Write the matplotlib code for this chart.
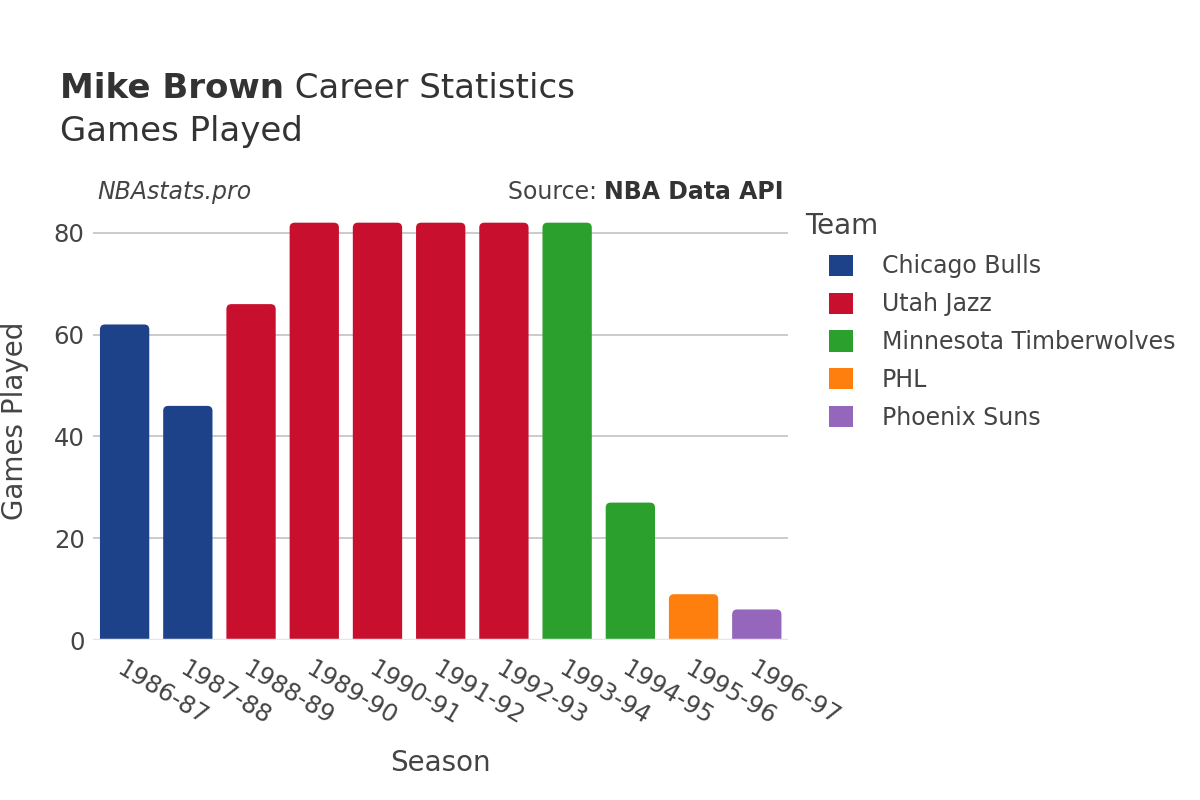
import matplotlib.pyplot as plt
from matplotlib.patches import FancyBboxPatch, Patch

# data
seasons = ['1986-87', '1987-88', '1988-89', '1989-90', '1990-91', '1991-92',
           '1992-93', '1993-94', '1994-95', '1995-96', '1996-97']
games = [62, 46, 66, 82, 82, 82, 82, 82, 27, 9, 6]
teams = ['Chicago Bulls', 'Chicago Bulls', 'Utah Jazz', 'Utah Jazz', 'Utah Jazz',
         'Utah Jazz', 'Utah Jazz', 'Minnesota Timberwolves', 'Minnesota Timberwolves',
         'PHL', 'Phoenix Suns']
team_order = ['Chicago Bulls', 'Utah Jazz', 'Minnesota Timberwolves', 'PHL', 'Phoenix Suns']
team_colors = {'Chicago Bulls': '#1d428a', 'Utah Jazz': '#c8102e',
               'Minnesota Timberwolves': '#2ca02c', 'PHL': '#ff7f0e',
               'Phoenix Suns': '#9467bd'}

plt.rcParams['font.family'] = ['DejaVu Sans']
txt = '#444444'

fig = plt.figure(figsize=(12, 8), dpi=100)
ax = fig.add_axes([0.0775, 0.2, 0.5795, 0.549])

x = list(range(len(seasons)))
bars = ax.bar(x, games, width=0.78, color=[team_colors[t] for t in teams])
ax.set_xlim(-0.5, len(seasons) - 0.5)
ax.set_ylim(0, 86.3)

# rounded tops: swap each bar for a rounded box that starts below zero (clipped)
for b in bars:
    bx, bw, bh = b.get_x(), b.get_width(), b.get_height()
    r = 0.08
    p = FancyBboxPatch((bx + r, -3 + r * 12.4), bw - 2 * r, bh + 3 - 2 * r * 12.4,
                       boxstyle=f'round,pad={r},rounding_size={r}',
                       mutation_aspect=12.4, facecolor=b.get_facecolor(),
                       edgecolor='none', zorder=2)
    ax.add_patch(p)
    b.set_visible(False)

ax.set_yticks([0, 20, 40, 60, 80])
ax.grid(axis='y', color='#bdbdbd', linewidth=1.1, zorder=0)
ax.set_axisbelow(True)
ax.axhline(0, color='#e6e6e6', linewidth=2.5, zorder=3)
for s in ax.spines.values():
    s.set_visible(False)
ax.tick_params(axis='both', length=0, labelsize=17.5, labelcolor=txt)
ax.tick_params(axis='y', pad=6)
ax.set_xticks(x)
ax.set_xticklabels(seasons, rotation=-31, ha='left', va='top', rotation_mode='anchor')
ax.tick_params(axis='x', pad=12)

ax.set_xlabel('Season', fontsize=20, color=txt, labelpad=14)
ax.set_ylabel('Games Played', fontsize=20, color=txt, labelpad=18)

fig.canvas.draw()
r = fig.canvas.get_renderer()

# title: bold name then regular rest
t1 = fig.text(0.05, 0.889, 'Mike Brown', fontsize=24.5, weight='bold',
              color='#333333', va='center')
w = t1.get_window_extent(r).width / fig.bbox.width
fig.text(0.05 + w, 0.889, ' Career Statistics', fontsize=24.5, color='#333333', va='center')
fig.text(0.05, 0.835, 'Games Played', fontsize=24.5, color='#333333', va='center')

fig.text(0.081, 0.76, 'NBAstats.pro', fontsize=17, style='italic', color=txt, va='center')
s2 = fig.text(0.653, 0.76, 'NBA Data API', fontsize=17, weight='bold', color='#333333',
              va='center', ha='right')
w2 = s2.get_window_extent(r).width / fig.bbox.width
fig.text(0.653 - w2, 0.76, 'Source: ', fontsize=17, color=txt, va='center', ha='right')

fig.text(0.671, 0.717, 'Team', fontsize=20, color=txt, va='center')
handles = [Patch(facecolor=team_colors[t], edgecolor='none') for t in team_order]
leg = fig.legend(handles, team_order, loc='upper left', bbox_to_anchor=(0.691, 0.682),
                 frameon=False, fontsize=17, handlelength=1.0, handleheight=1.0,
                 handletextpad=1.22, labelspacing=0.585, borderpad=0, borderaxespad=0)
plt.setp(leg.get_texts(), color=txt)

fig.savefig('out.png', dpi=100)
